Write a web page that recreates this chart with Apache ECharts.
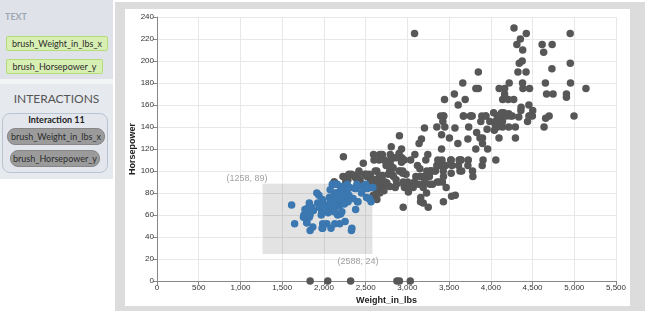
<!DOCTYPE html>
<html>
<head>
<meta charset="utf-8">
<script src="https://cdn.jsdelivr.net/npm/echarts@6/dist/echarts.min.js"></script>
<style>
    body { margin: 0; width: 645px; height: 311px; background: #fff; overflow: hidden; font-family: Lato, "Noto Sans", sans-serif; }
    .side1 { position: absolute; left: 0; top: 0; width: 113px; height: 79px; background: #dfe3e9; }
    .side2 { position: absolute; left: 0; top: 84px; width: 113px; height: 95px; background: #e6e9ee; }
    .gap { position: absolute; left: 0; top: 79px; width: 113px; height: 5px; background: #f3f4f6; }
    .label-text { position: absolute; left: 5px; top: 11px; font-size: 9px; font-weight: bold; color: #a0a8b2; }
    .pill { position: absolute; box-sizing: border-box; font-size: 9px; color: #2b2b2b; text-align: center; white-space: nowrap; }
    .green { background: #d8efb4; border: 1px solid #b4dd7a; border-radius: 2px; line-height: 13px; }
    .grey { background: #9b9b9b; border: 1px solid #878787; border-radius: 8px; line-height: 15px; }
    .inter-title { position: absolute; left: 0; width: 113px; top: 91px; text-align: center; font-size: 12px; color: #555; }
    .inter-box { position: absolute; left: 2px; top: 113px; width: 106px; height: 60px; box-sizing: border-box; border: 1px solid #b9c4d3; border-radius: 8px; background: #e3e7ed; }
    .inter-name { position: absolute; left: 0; width: 113px; top: 114px; text-align: center; font-size: 9px; font-weight: bold; color: #222; }
    .frame { position: absolute; left: 115px; top: 2px; width: 530px; height: 309px; background: #dcdcdc; }
    .inner { position: absolute; left: 125px; top: 9px; width: 505px; height: 297px; background: #fff; }
    #chart { position: absolute; left: 0; top: 0; width: 645px; height: 311px; }
</style>
</head>
<body>
<div class="side1"></div>
<div class="gap"></div>
<div class="side2"></div>
<div class="label-text">TEXT</div>
<div class="pill green" style="left:6px;top:36px;width:102px;height:15px;">brush_Weight_in_lbs_x</div>
<div class="pill green" style="left:6px;top:59px;width:97px;height:15px;">brush_Horsepower_y</div>
<div class="inter-title">INTERACTIONS</div>
<div class="inter-box"></div>
<div class="inter-name">Interaction 11</div>
<div class="pill grey" style="left:7px;top:128px;width:98px;height:17px;">brush_Weight_in_lbs_x</div>
<div class="pill grey" style="left:10px;top:150px;width:90px;height:17px;">brush_Horsepower_y</div>
<div class="frame"></div>
<div class="inner"></div>
<div id="chart"></div>

<script>
// [Weight_in_lbs, Horsepower] (missing horsepower drawn at 0)
const cars = [
    [3504,130],[3693,165],[3436,150],[3433,150],[3449,140],[4341,198],[4354,220],[4312,215],[4425,225],[3850,190],
    [3090,115],[4142,165],[4034,153],[4166,175],[3850,175],[3563,170],[3609,160],[3353,140],[3761,150],[3086,225],
    [2372,95],[2833,95],[2774,97],[2587,85],[2130,88],[1835,46],[2672,87],[2430,90],[2375,95],[2234,113],
    [2648,90],[4615,215],[4376,200],[4382,210],[4732,193],
    [2130,88],[2264,90],[2228,95],[2046,0],[2634,100],[3439,105],[3329,100],[3302,88],[3288,100],[4209,165],
    [4464,175],[4154,153],[4096,150],[4955,180],[4746,170],[5140,175],[2962,110],[2408,72],[3282,100],[3139,88],
    [2220,86],[2123,90],[2074,70],[2065,76],[1773,65],[1613,69],[1834,60],[1955,70],[2278,95],[2126,80],
    [2254,54],[2408,90],[2226,86],[4274,165],[4385,175],[4135,150],[4129,153],[3672,150],[4633,208],[4502,155],
    [4456,160],[4422,190],[2330,97],[3892,150],[4098,130],[4294,140],[4077,150],[2933,112],[2511,76],[2979,87],
    [2189,69],[2395,86],[2288,92],[2506,97],[2164,80],[2100,88],
    [4100,175],[3672,150],[3988,145],[4042,137],[3777,150],[4952,198],[4464,150],[4363,158],[4237,150],[4735,215],
    [4951,225],[3821,175],[3121,105],[3278,100],[2945,100],[3021,88],[3433,95],[2330,46],[4997,150],[4906,167],
    [4906,170],[4654,180],[2789,100],[2279,88],[2401,72],[2379,94],[2124,90],[2310,85],[2472,107],[2265,90],
    [4082,145],[4278,230],[1867,49],[2158,75],[2582,91],[2868,112],[3399,150],[2660,110],[2807,122],[3664,180],
    [3102,95],[2875,0],[2901,100],[3336,100],[1950,67],[2451,80],[1836,65],[2542,75],[3781,100],[3632,110],
    [3613,105],[4141,140],[4699,150],[4457,150],[4638,140],[4257,150],[2219,83],[1963,67],[2300,78],[2189,52],
    [2200,61],[2123,75],[2074,75],[2075,75],[2489,97],[2391,93],[1950,67],
    [3264,95],[3459,105],[3432,72],[3158,72],[4668,170],[4440,145],[4498,150],[4657,148],[3907,110],[3897,105],
    [3730,110],[3785,95],[3039,110],[3221,110],[3169,129],[2171,75],[2639,83],[2914,100],[2592,78],[2702,96],
    [2223,71],[2545,97],[2984,97],[1937,70],[3211,90],[2694,95],[2957,88],[2945,98],[2671,115],[1795,53],
    [2464,86],[2220,81],[2572,92],[2255,79],[2202,83],[4215,140],[4190,150],[3962,120],[4215,152],[3233,100],
    [3353,105],[3012,81],[3085,90],[2035,52],[2164,60],[1937,70],[1795,53],[3651,100],[3574,78],[3645,110],
    [3193,95],[1825,71],[1990,70],[2155,75],[2565,72],[3150,102],[3940,150],[3270,88],[2930,108],[3820,120],
    [4380,180],[4055,145],[3870,130],[3755,150],
    [2045,68],[2155,80],[1825,58],[2300,96],[1945,70],[3880,145],[4060,110],[4140,145],[4295,130],[3520,110],
    [3425,105],[3630,100],[3525,98],[4220,180],[4165,170],[4325,190],[4335,149],[1940,78],[2740,88],[2265,75],
    [2755,89],[2051,63],[2075,83],[1985,67],[2190,78],[2815,97],[2600,110],[2720,110],
    [1985,48],[1800,66],[1985,52],[2070,70],[1800,60],[3365,110],[3735,140],[3570,139],[3535,105],[3155,95],
    [2965,85],[2720,88],[3430,100],[3210,90],[3380,105],[3070,85],[3620,110],[3410,120],[3425,145],[3445,165],
    [3205,139],[4080,140],[2155,68],[2560,95],[2300,97],[2230,75],[2515,95],[2745,105],[2855,85],[2405,97],
    [2830,103],[3140,125],[2795,115],[3410,133],[1990,71],[2135,68],
    [3245,115],[3190,85],[2990,88],[3360,90],[3525,110],[3900,130],[3725,129],[3955,138],[3830,135],[4360,155],
    [4054,142],[3605,125],[3940,150],[1925,71],[1975,65],[1915,80],[2670,80],[3530,77],[3900,125],[3190,71],
    [3420,90],[2200,70],[2150,70],[2020,65],[2130,69],[2670,90],[2595,115],[2700,115],[2556,90],[2144,76],
    [1968,60],[2120,70],[2019,65],[2678,90],[2870,88],[3003,90],[3381,90],
    [2188,78],[2711,90],[2542,75],[2434,92],[2265,75],[1985,65],[2800,105],[2110,65],[2085,48],[2335,48],
    [2950,67],[3250,67],[1850,67],[1835,0],[1965,67],[1975,62],[2905,132],[2420,100],[2500,88],[2905,0],
    [2290,72],
    [2490,84],[2635,84],[2620,92],[2725,110],[2385,84],[1755,58],[1875,64],[1760,60],[2065,67],[1975,65],
    [2050,62],[1985,68],[2215,63],[2045,65],[2380,65],[2190,74],[2320,0],[2210,75],[2350,75],[2615,100],
    [2635,74],[3230,80],[3160,76],[2900,116],[2930,120],[3415,110],[3725,105],[3060,88],[3465,85],
    [2605,88],[2640,88],[2395,88],[2575,85],[2525,84],[2735,90],[2865,92],[3035,0],[1980,74],[2025,68],
    [1970,68],[2125,63],[2125,70],[2160,88],[2205,75],[2245,70],[1965,67],[1965,67],[1995,67],[2945,110],
    [3015,85],[2585,92],[2835,112],[2665,96],[2370,84],[2950,90],[2790,86],[2130,52],[2295,84],[2625,79],
    [2720,82],[1978,48],[2800,110],[1649,52]
];

// brush extent
const brushX = [1258, 2588];
const brushY = [24, 89];

const inBrush = p => p[0] >= brushX[0] && p[0] <= brushX[1] && p[1] >= brushY[0] && p[1] <= brushY[1];
const selected = cars.filter(inBrush);
const others = cars.filter(p => !inBrush(p));

const fmt = v => v.toLocaleString("en-US");
const brushArea = [[{ coord: [brushX[0], brushY[1]] }, { coord: [brushX[1], brushY[0]] }]];

let myChart = echarts.init(document.getElementById("chart"));
myChart.setOption({
    animation: false,
    grid: { left: 157, right: 29, top: 17, bottom: 30 },
    xAxis: {
        type: "value",
        min: 0,
        max: 5500,
        interval: 500,
        name: "Weight_in_lbs",
        nameLocation: "middle",
        nameGap: 15,
        nameMoveOverlap: false,
        nameTextStyle: { fontFamily: "Liberation Sans", fontSize: 9, fontWeight: "bold", color: "#222" },
        axisLine: { show: true, lineStyle: { color: "#888" } },
        axisTick: { show: true, length: 4, lineStyle: { color: "#888" } },
        axisLabel: { fontFamily: "Liberation Sans", fontSize: 8, color: "#333", margin: 3, formatter: fmt },
        splitLine: { show: true, lineStyle: { color: "#e8e8e8" } },
    },
    yAxis: {
        type: "value",
        min: 0,
        max: 240,
        interval: 20,
        name: "Horsepower",
        nameLocation: "middle",
        nameGap: 20,
        nameMoveOverlap: false,
        nameTextStyle: { fontFamily: "Liberation Sans", fontSize: 9, fontWeight: "bold", color: "#222" },
        axisLine: { show: true, lineStyle: { color: "#888" } },
        axisTick: { show: true, length: 4, lineStyle: { color: "#888" } },
        axisLabel: { fontFamily: "Liberation Sans", fontSize: 8, color: "#333", margin: 3 },
        splitLine: { show: true, lineStyle: { color: "#e8e8e8" } },
    },
    series: [
        {
            // brush background
            type: "scatter",
            data: [],
            z: 1,
            markArea: {
                silent: true,
                itemStyle: { color: "rgba(0,0,0,0.11)" },
                data: brushArea,
            },
        },
        {
            type: "scatter",
            data: others,
            z: 2,
            symbolSize: 7.5,
            itemStyle: { color: "#575757", opacity: 1 },
        },
        {
            type: "scatter",
            data: selected,
            z: 3,
            symbolSize: 7.5,
            itemStyle: { color: "#3b77b0", opacity: 1 },
        },
        {
            // brush outline
            type: "scatter",
            data: [],
            z: 4,
            markArea: {
                silent: true,
                itemStyle: { color: "rgba(0,0,0,0)", borderColor: "#fff", borderWidth: 1 },
                data: brushArea,
            },
        },
        {
            // corner labels
            type: "scatter",
            z: 5,
            symbolSize: 1,
            itemStyle: { color: "rgba(0,0,0,0)" },
            label: {
                show: true,
                position: "inside",
                fontFamily: "Liberation Sans",
                fontSize: 9,
                color: "#8a8a8a",
                formatter: p => "(" + p.value[0] + ", " + p.value[1] + ")",
            },
            data: [
                { value: [brushX[0], brushY[1]], label: { offset: [-15, -5] } },
                { value: [brushX[1], brushY[0]], label: { offset: [-15, 7] } },
            ],
        },
    ],
});
</script>
</body>
</html>
